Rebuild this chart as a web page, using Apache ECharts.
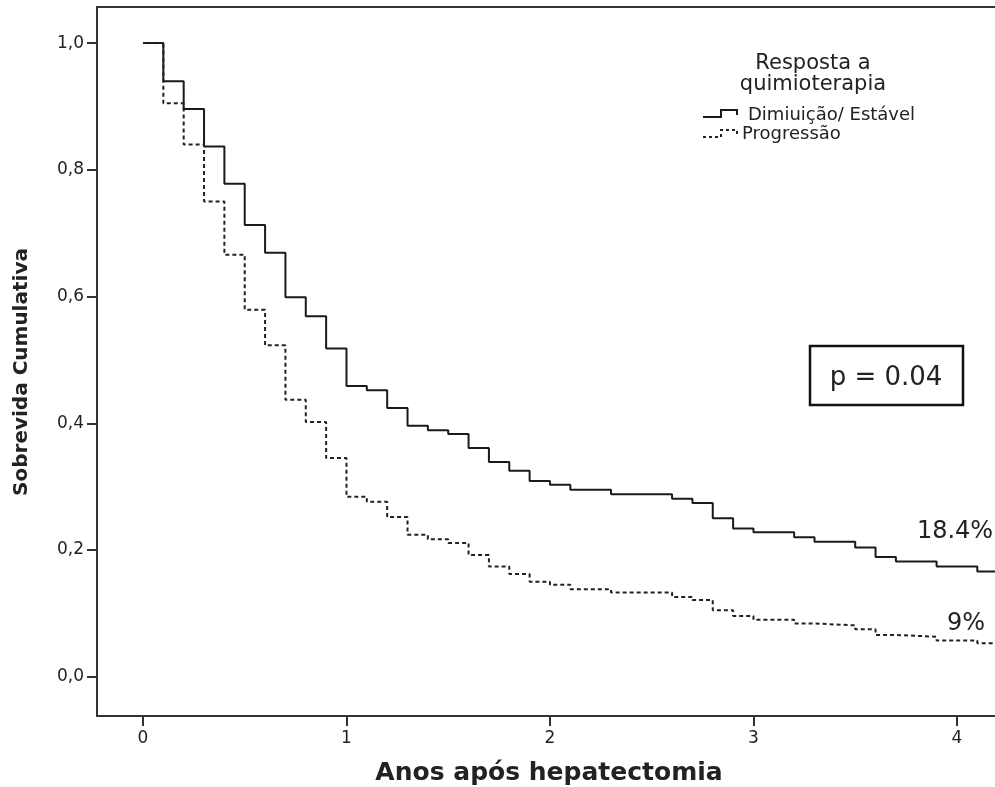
<!DOCTYPE html>
<html>
<head>
<meta charset="utf-8">
<script src="https://cdn.jsdelivr.net/npm/echarts@6/dist/echarts.min.js"></script>
<style>
html,body{margin:0;padding:0;background:#fff;}
#chart{width:995px;height:787px;}
</style>
</head>
<body>
<div id="chart"></div>
<script>
// ---- data ----
var years = [0, 0.1, 0.2, 0.3, 0.4, 0.5, 0.6, 0.7, 0.8, 0.9, 1.0, 1.1, 1.2, 1.3, 1.4, 1.5, 1.6, 1.7, 1.8, 1.9, 2.0, 2.1, 2.3, 2.6, 2.7, 2.8, 2.9, 3.0, 3.2, 3.3, 3.5, 3.6, 3.7, 3.9, 4.1, 4.3];
var estavel = [1.0, 0.940, 0.896, 0.837, 0.778, 0.713, 0.669, 0.599, 0.569, 0.518, 0.459, 0.452, 0.424, 0.396, 0.389, 0.383, 0.361, 0.339, 0.325, 0.309, 0.303, 0.295, 0.288, 0.281, 0.274, 0.250, 0.234, 0.228, 0.220, 0.213, 0.204, 0.189, 0.182, 0.174, 0.166, 0.166];
var progressao = [1.0, 0.905, 0.840, 0.750, 0.666, 0.579, 0.523, 0.437, 0.402, 0.345, 0.284, 0.276, 0.252, 0.224, 0.217, 0.211, 0.192, 0.174, 0.162, 0.150, 0.145, 0.138, 0.133, 0.126, 0.121, 0.105, 0.096, 0.090, 0.084, 0.081, 0.075, 0.066, 0.063, 0.057, 0.053, 0.053];
var xTicks = [0, 1, 2, 3, 4];
var yTicks = [0, 0.2, 0.4, 0.6, 0.8, 1.0];
var seriesNames = ['Dimiuição/ Estável', 'Progressão'];
var legendTitle = ['Resposta a', 'quimioterapia'];
var endLabels = ['18.4%', '9%'];
var pText = 'p = 0.04';
var xTitle = 'Anos após hepatectomia';
var yTitle = 'Sobrevida Cumulativa';

function pairs(xs, ys) { return xs.map(function (x, i) { return [x, ys[i]]; }); }

var chart = echarts.init(document.getElementById('chart'), null, {renderer: 'canvas'});
var txt = '#222';
var font = 'DejaVu Sans';
var frame = {color: '#333', width: 2};

chart.setOption({
  animation: false,
  backgroundColor: '#fff',
  grid: {left: 97, top: 7, right: 0, height: 709, show: false},
  xAxis: [{
    type: 'value', min: -0.226, max: 4.187, position: 'bottom',
    axisLine: {show: true, onZero: false, lineStyle: frame},
    splitLine: {show: false},
    axisTick: {show: true, customValues: xTicks, length: 10, lineStyle: frame},
    axisLabel: {customValues: xTicks, color: txt, fontSize: 17, fontFamily: font, margin: 14,
      formatter: function (v) { return String(v); }}
  }, {
    type: 'value', min: -0.226, max: 4.187, position: 'top',
    axisLine: {show: true, onZero: false, lineStyle: frame},
    splitLine: {show: false}, axisTick: {show: false}, axisLabel: {show: false}
  }],
  yAxis: {
    type: 'value', min: -0.062, max: 1.057,
    axisLine: {show: true, onZero: false, lineStyle: frame},
    splitLine: {show: false},
    axisTick: {show: true, customValues: yTicks, length: 10, lineStyle: frame},
    axisLabel: {customValues: yTicks, color: txt, fontSize: 17, fontFamily: font, margin: 13,
      formatter: function (v) { return v.toFixed(1).replace('.', ','); }}
  },
  series: [
    {name: seriesNames[0], type: 'line', step: 'end', data: pairs(years, estavel), showSymbol: false, symbol: 'none',
      clip: true, lineStyle: {color: '#1a1a1a', width: 2}},
    {name: seriesNames[1], type: 'line', step: 'end', data: pairs(years, progressao), showSymbol: false, symbol: 'none',
      clip: true, lineStyle: {color: '#222', width: 2, type: [4, 3]}}
  ],
  graphic: [
    {type: 'text', x: 813, y: 64, style: {text: legendTitle[0], fill: txt, font: '21px "DejaVu Sans"', textAlign: 'center', textVerticalAlign: 'middle'}},
    {type: 'text', x: 813, y: 85, style: {text: legendTitle[1], fill: txt, font: '21px "DejaVu Sans"', textAlign: 'center', textVerticalAlign: 'middle'}},
    {type: 'polyline', shape: {points: [[703, 117], [721, 117], [721, 110], [737, 110], [737, 115]]}, style: {stroke: '#1a1a1a', lineWidth: 2, fill: null}},
    {type: 'polyline', shape: {points: [[703, 137], [721, 137], [721, 130], [737, 130], [737, 135]]}, style: {stroke: '#222', lineWidth: 2, lineDash: [3, 3], fill: null}},
    {type: 'text', x: 748, y: 115, style: {text: seriesNames[0], fill: txt, font: '18px "DejaVu Sans"', textAlign: 'left', textVerticalAlign: 'middle'}},
    {type: 'text', x: 742, y: 134, style: {text: seriesNames[1], fill: txt, font: '18px "DejaVu Sans"', textAlign: 'left', textVerticalAlign: 'middle'}},
    {type: 'rect', shape: {x: 810, y: 346, width: 153, height: 59}, style: {stroke: '#111', lineWidth: 2.5, fill: '#fff'}},
    {type: 'text', x: 886, y: 378, style: {text: pText, fill: txt, font: '26px "DejaVu Sans"', textAlign: 'center', textVerticalAlign: 'middle'}},
    {type: 'text', x: 955, y: 532, style: {text: endLabels[0], fill: txt, font: '24px "DejaVu Sans"', textAlign: 'center', textVerticalAlign: 'middle'}},
    {type: 'text', x: 966, y: 624, style: {text: endLabels[1], fill: txt, font: '24px "DejaVu Sans"', textAlign: 'center', textVerticalAlign: 'middle'}},
    {type: 'text', x: 549, y: 773, style: {text: xTitle, fill: txt, font: 'bold 25px "DejaVu Sans"', textAlign: 'center', textVerticalAlign: 'middle'}},
    {type: 'text', x: 22, y: 372, rotation: Math.PI / 2, style: {text: yTitle, fill: txt, font: 'bold 20px "DejaVu Sans"', textAlign: 'center', textVerticalAlign: 'middle'}}
  ]
});
</script>
</body>
</html>
